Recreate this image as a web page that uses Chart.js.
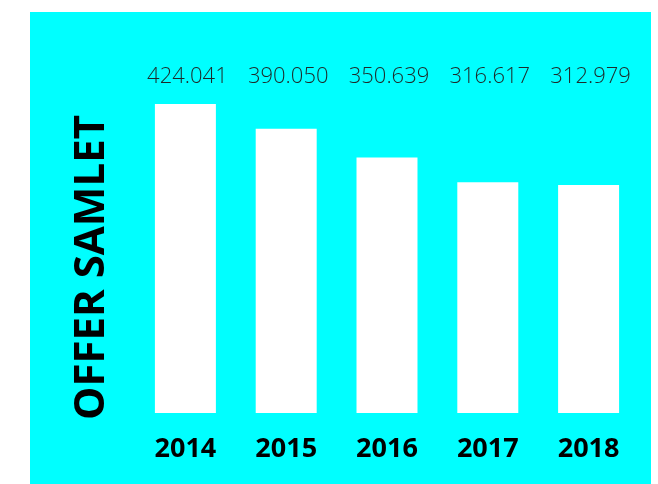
<!DOCTYPE html>
<html>
<head>
<meta charset="utf-8">
<script src="https://cdn.jsdelivr.net/npm/chart.js@4.4.0/dist/chart.umd.min.js"></script>
<style>
    html, body { margin: 0; padding: 0; background: #ffffff; }
    #wrap { position: absolute; left: 30px; top: 12px; width: 621px; height: 472px; background: #00ffff; }
    canvas { display: block; }
</style>
</head>
<body>
<div id="wrap"><canvas id="offerChart" width="621" height="472"></canvas></div>
<script>
// Offer samlet per year
const years = ['2014', '2015', '2016', '2017', '2018'];
const offers = [424041, 390050, 350639, 316617, 312979];
const valueLabels = ['424.041', '390.050', '350.639', '316.617', '312.979'];

const ctx = document.getElementById('offerChart').getContext('2d');

// labels sit in one row above the plot, not on each bar
const topLabels = {
    id: 'topLabels',
    afterDatasetsDraw(chart) {
        const c = chart.ctx;
        const xScale = chart.scales.x;
        c.save();
        c.font = '300 22px "Open Sans"';
        c.fillStyle = '#1e2a2a';
        c.textAlign = 'center';
        c.textBaseline = 'middle';
        valueLabels.forEach((label, i) => {
            c.fillText(label, xScale.getPixelForValue(i) + 2, chart.chartArea.top - 27);
        });
        c.restore();
    }
};

const maxOffer = Math.max(...offers);

new Chart(ctx, {
    type: 'bar',
    data: {
        labels: years,
        datasets: [{
            data: offers,
            backgroundColor: '#ffffff',
            borderWidth: 0,
            barPercentage: 0.605,
            categoryPercentage: 1
        }]
    },
    options: {
        responsive: false,
        animation: false,
        layout: {
            padding: { top: 92, right: 12, bottom: 16, left: 0 }
        },
        plugins: {
            legend: { display: false },
            tooltip: { enabled: false }
        },
        scales: {
            x: {
                grid: { display: false, drawTicks: false },
                border: { display: false },
                ticks: {
                    padding: 5,
                    color: '#000000',
                    font: { family: 'Open Sans', weight: 'bold', size: 27, lineHeight: 1 }
                }
            },
            y: {
                min: -0.058 * maxOffer,
                max: maxOffer,
                grid: { display: false, drawTicks: false },
                border: { display: false },
                ticks: { display: false },
                title: {
                    display: true,
                    text: 'OFFER SAMLET',
                    color: '#000000',
                    font: { family: 'Open Sans', weight: 'bold', size: 42, lineHeight: 1 },
                    padding: { top: 41, bottom: 22 }
                }
            }
        }
    },
    plugins: [topLabels]
});
</script>
</body>
</html>
